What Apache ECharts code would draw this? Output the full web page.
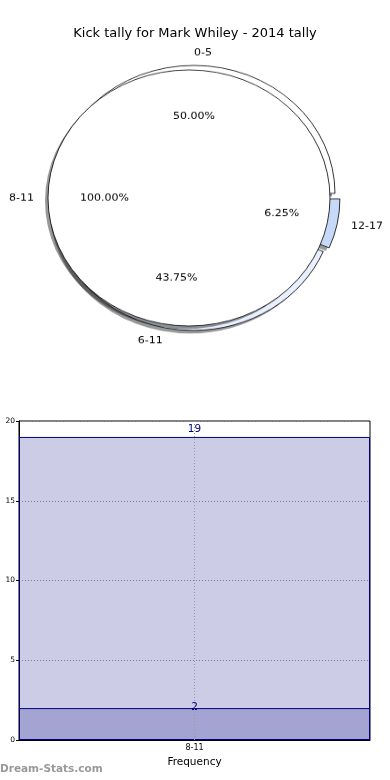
<!DOCTYPE html>
<html><head><meta charset="utf-8">
<script src="https://cdn.jsdelivr.net/npm/echarts@6/dist/echarts.min.js"></script>
<style>
html,body{margin:0;padding:0;background:#fff;}
#main{position:absolute;left:0;top:0;width:390px;height:780px;}
#pie{position:absolute;left:0;top:0;width:390px;height:400px;transform:scaleY(0.908);transform-origin:0 0;}
</style></head><body>
<div id="main"></div><div id="pie"></div>
<script>
const titleText = 'Kick tally for Mark Whiley - 2014 tally';
const outerNames = ['0-5', '6-11', '12-17'];
const outerValues = [8, 7, 1];
const outerColors = ['#ffffff', '#e8effd', '#c6d9f9'];
const innerNames = ['8-11'];
const innerValues = [16];
const innerColors = ['#ffffff'];
const barCategories = ['8-11'];
const barTotal = [19];
const barSub = [2];
const yMin = 0, yMax = 20, yStep = 5;
const xName = 'Frequency';
const yName = 'Stat/Match Tally';
const watermark = 'Dream-Stats.com';

const FONT = 'DejaVu Sans';
const R = 141, CX = 194, CY = 218;
const SHX = -3, SHY = 3 / 0.908;

function pieData(names, values, colors, mode) {
  return names.map((n, i) => ({
    name: n, value: values[i], selected: true,
    itemStyle: mode === 'fill' ? { color: colors[i] }
      : mode === 'shadow' ? { color: 'rgba(0,0,0,0.4)' }
      : { color: 'rgba(0,0,0,0)' }
  }));
}
const common = {
  type: 'pie', center: [CX, CY], startAngle: 0, clockwise: false,
  avoidLabelOverlap: false, selectedMode: 'multiple', selectedOffset: 5,
  silent: true, animation: false, emphasis: { disabled: true }
};
const nameLabel = {
  show: true, position: 'outside', color: '#000', fontSize: 11, fontFamily: FONT,
  distanceToLabelLine: 0, formatter: '{b}'
};
const pctLabel = {
  show: true, position: 'inside', color: '#000', fontSize: 11, fontFamily: FONT,
  formatter: p => p.percent.toFixed(2) + '%'
};
const wedgeStyle = { borderColor: '#000', borderWidth: 0.8 };
const shadowCommon = Object.assign({}, common, {
  center: [CX + SHX, CY + SHY], radius: R,
  itemStyle: { borderWidth: 0 }, label: { show: false }, labelLine: { show: false }
});

const pie = echarts.init(document.getElementById('pie'), null, { renderer: 'canvas' });
pie.setOption({
  animation: false,
  series: [
    Object.assign({}, shadowCommon, { data: pieData(outerNames, outerValues, outerColors, 'shadow') }),
    Object.assign({}, common, {
      radius: R, data: pieData(outerNames, outerValues, outerColors, 'fill'),
      itemStyle: wedgeStyle, label: nameLabel, labelLine: { show: false, length: 14.1, length2: 0 }
    }),
    Object.assign({}, shadowCommon, { data: pieData(innerNames, innerValues, innerColors, 'shadow') }),
    Object.assign({}, common, {
      radius: R, data: pieData(innerNames, innerValues, innerColors, 'fill'),
      itemStyle: wedgeStyle, label: nameLabel, labelLine: { show: false, length: 14.1, length2: 0 }
    }),
    Object.assign({}, common, {
      radius: [22, R], data: pieData(outerNames, outerValues, outerColors, 'none'),
      itemStyle: { borderWidth: 0 }, label: pctLabel, labelLine: { show: false }
    }),
    Object.assign({}, common, {
      radius: [22, R], data: pieData(innerNames, innerValues, innerColors, 'none'),
      itemStyle: { borderWidth: 0 }, label: pctLabel, labelLine: { show: false }
    })
  ]
});

const main = echarts.init(document.getElementById('main'), null, { renderer: 'canvas' });
const barStyle = { color: 'rgba(0,0,128,0.2)', borderColor: '#000080', borderWidth: 1 };
main.setOption({
  animation: false,
  title: {
    text: titleText, left: 'center', top: 22,
    textStyle: { fontSize: 13, fontWeight: 'normal', color: '#000', fontFamily: FONT }
  },
  grid: {
    left: 19, right: 20, top: 421, bottom: 40, show: true, borderColor: '#000', borderWidth: 1,
    containLabel: false, outerBoundsMode: 'none'
  },
  xAxis: {
    type: 'category', data: barCategories,
    axisLine: { lineStyle: { color: '#000' } },
    axisTick: { alignWithLabel: true, length: 3, lineStyle: { color: '#000' } },
    axisLabel: { fontSize: 8, color: '#000', fontFamily: FONT, margin: 4 },
    name: xName, nameLocation: 'middle', nameGap: 17,
    nameTextStyle: { fontSize: 10.5, color: '#000', fontFamily: FONT }
  },
  yAxis: {
    type: 'value', min: yMin, max: yMax, interval: yStep,
    axisLine: { show: true, lineStyle: { color: '#000' } },
    axisTick: { show: true, length: 3, lineStyle: { color: '#000' } },
    axisLabel: { fontSize: 7.5, color: '#000', fontFamily: FONT, margin: 4 },
    splitLine: { show: true, lineStyle: { color: '#999', type: [1, 2], width: 1 } },
    name: yName, nameLocation: 'middle', nameGap: 16,
    nameTextStyle: { fontSize: 10, color: '#000', fontFamily: FONT }
  },
  series: [
    {
      type: 'bar', data: barTotal, barWidth: '100%', barGap: '-100%',
      itemStyle: barStyle, silent: true,
      label: { show: true, position: 'top', distance: 2, color: '#000080', fontSize: 10.5, fontFamily: FONT },
      markLine: {
        silent: true, symbol: 'none', label: { show: false },
        lineStyle: { color: '#999', type: [1, 2], width: 1 },
        data: [{ xAxis: barCategories[0] }]
      }
    },
    {
      type: 'bar', data: barSub, barWidth: '100%', barGap: '-100%',
      itemStyle: barStyle, silent: true,
      label: { show: true, position: 'top', distance: -4.5, color: '#000080', fontSize: 10.5, fontFamily: FONT }
    }
  ],
  graphic: [{
    type: 'text', left: 0, top: 764,
    style: { text: watermark, fill: '#999', font: 'bold 10.5px "DejaVu Sans"' }
  }]
});
</script>
</body></html>
